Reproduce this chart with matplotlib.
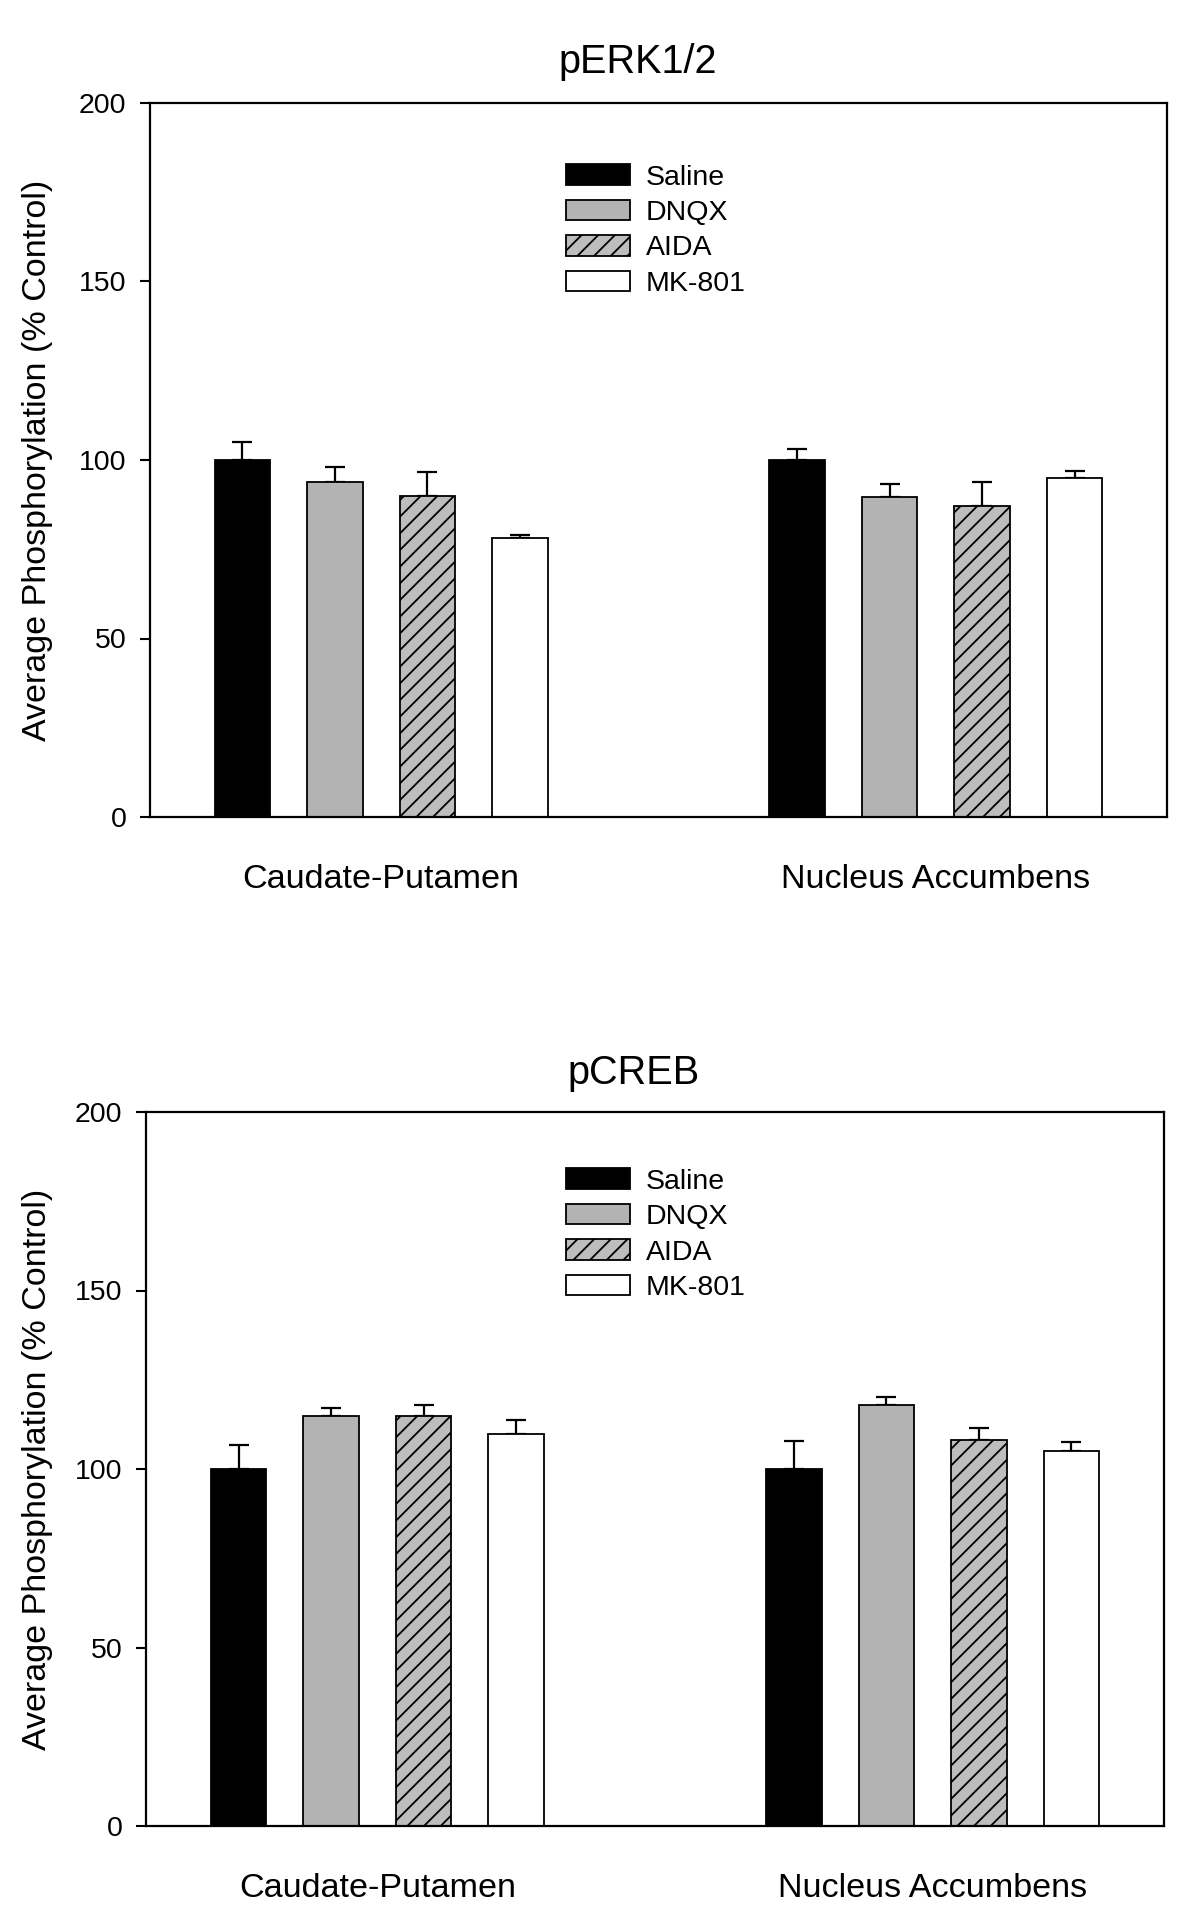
import matplotlib
matplotlib.use("Agg")
import matplotlib.pyplot as plt
import numpy as np

plt.rcParams['font.family'] = ['Liberation Sans', 'DejaVu Sans']
plt.rcParams['hatch.linewidth'] = 1.3

# ---------------- data ----------------
treatments = ["Saline", "DNQX", "AIDA", "MK-801"]
regions = ["Caudate-Putamen", "Nucleus Accumbens"]

perk_cp_mean = [100.0, 93.7, 89.9, 78.1]
perk_cp_err = [5.0, 4.3, 6.8, 0.9]
perk_na_mean = [100.0, 89.6, 87.2, 95.0]
perk_na_err = [3.0, 3.8, 6.5, 2.0]

pcreb_cp_mean = [100.0, 114.8, 114.8, 109.8]
pcreb_cp_err = [6.6, 2.4, 3.0, 4.0]
pcreb_na_mean = [100.0, 117.8, 108.0, 105.0]
pcreb_na_err = [7.8, 2.5, 3.4, 2.6]

yticks = [0, 50, 100, 150, 200]
titles = ["pERK1/2", "pCREB"]
ylabel = "Average Phosphorylation (% Control)"

# ---------------- style ----------------
facecolors = ["black", "#b3b3b3", "#bdbdbd", "white"]
hatches = [None, None, "//", None]
group_offsets = [0, 6]
bar_width = 0.6

fig = plt.figure(figsize=(12, 19.3), dpi=100)

panels = [
    dict(rect=[150/1200, 1-817/1930, 1017/1200, 714/1930],
         means=[perk_cp_mean, perk_na_mean], errs=[perk_cp_err, perk_na_err],
         title=titles[0], title_xy=(638/1200, 1-62/1930),
         leg_anchor=(0.409, 0.914)),
    dict(rect=[146/1200, 1-1826/1930, 1018/1200, 714/1930],
         means=[pcreb_cp_mean, pcreb_na_mean], errs=[pcreb_cp_err, pcreb_na_err],
         title=titles[1], title_xy=(634/1200, 1-1073/1930),
         leg_anchor=(0.4125, 0.921)),
]

for p in panels:
    ax = fig.add_axes(p["rect"])
    for i, t in enumerate(treatments):
        xs = [g + i for g in group_offsets]
        vals = [p["means"][r][i] for r in range(len(regions))]
        errs = [p["errs"][r][i] for r in range(len(regions))]
        ax.errorbar(xs, vals, yerr=[np.zeros(len(errs)), errs], fmt='none',
                    ecolor='black', elinewidth=1.6, capsize=7.5, capthick=1.6,
                    zorder=1)
        ax.bar(xs, vals, width=bar_width, color=facecolors[i],
               edgecolor='black', linewidth=1.3, hatch=hatches[i],
               label=t, zorder=2)
    ax.set_xlim(-1, 10)
    ax.set_ylim(0, 200)
    ax.set_yticks(yticks)
    ax.set_xticks([g + 1.5 for g in group_offsets])
    ax.set_xticklabels(regions, fontsize=24.6)
    ax.tick_params(axis='x', length=0, pad=33.5)
    ax.tick_params(axis='y', length=7, width=1.5, pad=10, labelsize=20.5,
                   direction='out')
    for s in ax.spines.values():
        s.set_linewidth(1.6)
    ax.set_ylabel(ylabel, fontsize=24.5)
    ax.yaxis.set_label_coords(-(p["rect"][0]*1200 - 53)/(p["rect"][2]*1200), 0.5)
    fig.text(p["title_xy"][0], p["title_xy"][1], p["title"], fontsize=28.5,
             ha='center', va='center')
    ax.legend(loc='upper left', bbox_to_anchor=p["leg_anchor"], frameon=False,
              fontsize=20.5, handlelength=2.25, handleheight=0.72,
              handletextpad=0.55, labelspacing=0.33, borderaxespad=0,
              borderpad=0)

fig.savefig("out.png", dpi=100)
